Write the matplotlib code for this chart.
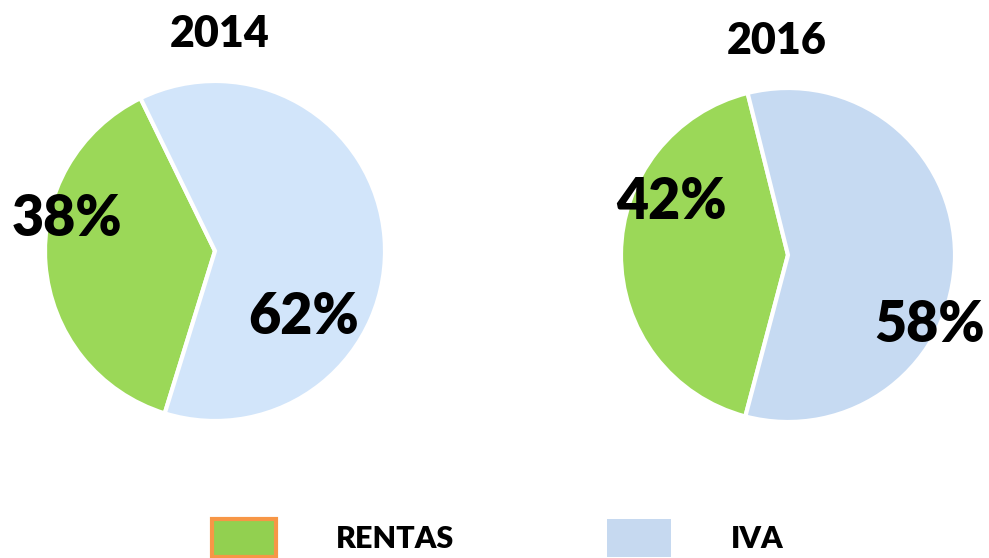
import matplotlib.pyplot as plt
from matplotlib.patches import Patch

categories = ['RENTAS', 'IVA']
years = ['2014', '2016']
shares_2014 = [38, 62]
shares_2016 = [42, 58]

green = '#9BD858'
blue_2014 = '#D2E5FA'
blue_2016 = '#C6DAF2'

plt.rcParams['font.family'] = ['Lato', 'DejaVu Sans']
wt = 'heavy'

fig = plt.figure(figsize=(9.89, 5.58), dpi=100)
W, H = 989, 558


def pie_axes(cx, cy, r):
    return fig.add_axes([(cx - r) / W, (H - cy - r) / H, 2 * r / W, 2 * r / H])


# 2014
ax1 = pie_axes(215, 251, 170)
ax1.pie(shares_2014, colors=[green, blue_2014], startangle=116,
        wedgeprops=dict(edgecolor='white', linewidth=3))
ax1.set_xlim(-1, 1)
ax1.set_ylim(-1, 1)
ax1.text(-0.87, 0.19, f'{shares_2014[0]}%', fontsize=40, fontweight=wt,
         ha='center', va='center')
ax1.text(0.52, -0.39, f'{shares_2014[1]}%', fontsize=40, fontweight=wt,
         ha='center', va='center')
fig.text(220 / W, 1 - 34 / H, years[0], fontsize=31, fontweight=wt,
         ha='center', va='center')

# 2016
ax2 = pie_axes(788, 255, 167)
ax2.pie(shares_2016, colors=[green, blue_2016], startangle=104,
        wedgeprops=dict(edgecolor='white', linewidth=3))
ax2.set_xlim(-1, 1)
ax2.set_ylim(-1, 1)
ax2.text(-0.7, 0.32, f'{shares_2016[0]}%', fontsize=40, fontweight=wt,
         ha='center', va='center')
ax2.text(0.85, -0.42, f'{shares_2016[1]}%', fontsize=40, fontweight=wt,
         ha='center', va='center')
fig.text(777 / W, 1 - 41 / H, years[1], fontsize=31, fontweight=wt,
         ha='center', va='center')

handles = [Patch(facecolor='#92D050', edgecolor='#F79646', linewidth=3),
           Patch(facecolor='#C6D9F0', edgecolor='none')]
leg = fig.legend(handles, categories, loc='lower center', bbox_to_anchor=(0.503, -0.048),
                 ncol=2, frameon=False, prop=dict(size=22, weight=wt),
                 handlelength=2.1, handleheight=1.55, handletextpad=1.95,
                 columnspacing=5.0)

fig.savefig('out.png', dpi=100)
